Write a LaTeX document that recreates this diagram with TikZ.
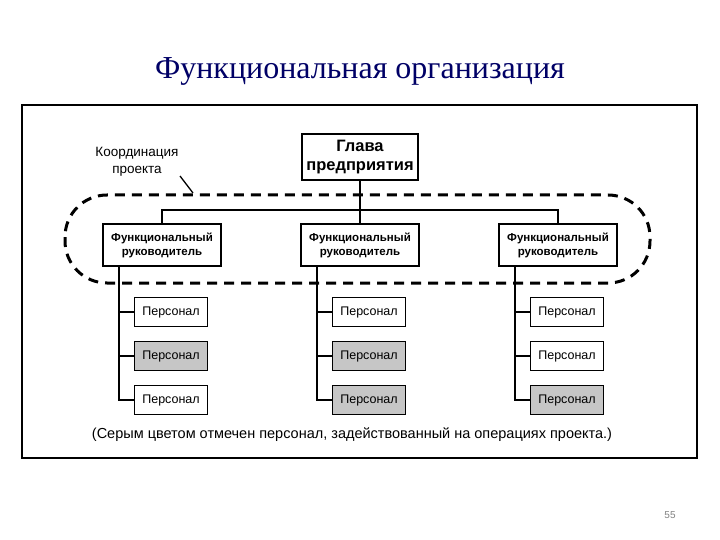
\documentclass[tikz,border=0pt]{standalone}
\usepackage{fontspec}
\setmainfont{Liberation Sans}
\newfontfamily\serif{Liberation Serif}
\begin{document}
\begin{tikzpicture}[x=1pt,y=-1pt,
 box/.style={draw,line width=1.6pt,inner sep=0pt,align=center},
 fr/.style={box,minimum width=118pt,minimum height=42pt,font=\bfseries\fontsize{11.5}{14}\selectfont},
 st/.style={box,minimum width=73pt,minimum height=29pt,font=\fontsize{12.5}{14}\selectfont},
 gr/.style={st,fill=gray!45},
 ln/.style={line width=1.3pt}]
\useasboundingbox (0,0) rectangle (720,540);
\node[font=\serif\fontsize{32}{36}\selectfont,text=blue!40!black] (title) at (360,71) {Функциональная организация};
\node[font=\fontsize{10}{12}\selectfont,text=gray] (pg) at (670,515) {55};
\draw[line width=1.6pt] (22,105) rectangle (697,458);
\node[box,minimum width=116pt,minimum height=46pt,font=\bfseries\fontsize{16.5}{19}\selectfont] (head) at (360,157) {Глава\\предприятия};
\node[fr] (f1) at (162,245) {Функциональный\\руководитель};
\node[fr] (f2) at (360,245) {Функциональный\\руководитель};
\node[fr] (f3) at (558,245) {Функциональный\\руководитель};
\coordinate (bl) at (162,210); \coordinate (br) at (558,210);
\draw[ln] (head.south) -- (f2.north);
\draw[ln] (f1.north) -- (bl) -- (br) -- (f3.north);
\draw[line width=3pt,dash pattern=on 10pt off 7pt,rounded corners=42pt] (65,195) rectangle (650,283);
\node[align=center,font=\fontsize{13.5}{17}\selectfont] (coord) at (137,162) {Координация\\проекта};
\coordinate (cp) at (193,193);
\draw[ln] (180,176) -- (cp);
\foreach \f/\x/\a/\b/\c in {f1/119/st/gr/st, f2/317/st/gr/gr, f3/515/st/st/gr}{
  \node[\a] (\f a) at (\x+52,312) {Персонал};
  \node[\b] (\f b) at (\x+52,356) {Персонал};
  \node[\c] (\f c) at (\x+52,400) {Персонал};
  \draw[ln] (\f.south -| \x,0) |- (\f c.west);
  \draw[ln] (\x,312) -- (\f a.west);
  \draw[ln] (\x,356) -- (\f b.west);
}
\node[font=\fontsize{14.5}{17}\selectfont] (cap) at (352,435) {(Серым цветом отмечен персонал, задействованный на операциях проекта.)};
\end{tikzpicture}
\end{document}
